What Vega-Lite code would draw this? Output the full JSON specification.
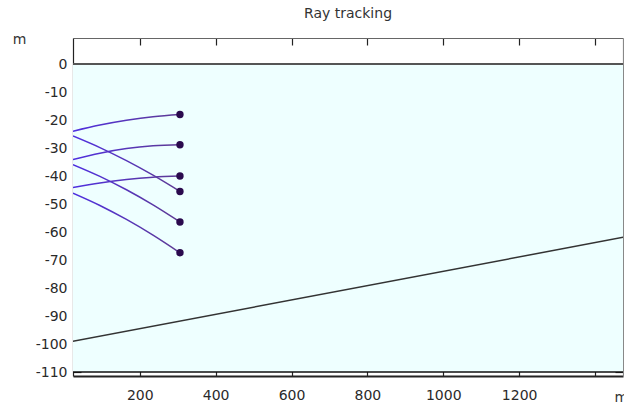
{
  "$schema": "https://vega.github.io/schema/vega-lite/v6.json",
  "autosize": "none",
  "padding": {"left": 73, "top": 38, "right": 10, "bottom": 30},
  "width": 550,
  "height": 338,
  "background": "white",
  "title": {"text": "Ray tracking", "fontSize": 14, "font": "DejaVu Sans", "fontWeight": "normal", "color": "#333", "anchor": "middle", "offset": 11},
  "config": {
    "view": {"stroke": null},
    "axis": {"labelFont": "DejaVu Sans", "labelFontSize": 14, "labelColor": "#2a2a2a", "titleFont": "DejaVu Sans", "titleFontSize": 14, "titleFontWeight": "normal", "titleColor": "#333", "grid": false, "domainColor": "#222", "tickColor": "#222", "domainWidth": 1.2, "tickWidth": 1.2}
  },
  "datasets": {
    "water": [{"x": 0, "x2": 1500, "y": 0, "y2": -110}],
    "surface": [{"y": 0}],
    "bottomline": [{"y": -110}],
    "seabed": [{"x": 0, "y": -99.6}, {"x": 1500, "y": -61.2}],
    "rays": [
      {"ray": "u1", "x": 24, "y": -24.0}, {"ray": "u1", "x": 95, "y": -21.8}, {"ray": "u1", "x": 165, "y": -20.1}, {"ray": "u1", "x": 235, "y": -18.8}, {"ray": "u1", "x": 306, "y": -18.0},
      {"ray": "u2", "x": 24, "y": -34.1}, {"ray": "u2", "x": 95, "y": -31.85}, {"ray": "u2", "x": 165, "y": -30.2}, {"ray": "u2", "x": 235, "y": -29.2}, {"ray": "u2", "x": 306, "y": -28.8},
      {"ray": "u3", "x": 24, "y": -44.1}, {"ray": "u3", "x": 95, "y": -42.45}, {"ray": "u3", "x": 165, "y": -41.2}, {"ray": "u3", "x": 235, "y": -40.4}, {"ray": "u3", "x": 306, "y": -40.0},
      {"ray": "d1", "x": 24, "y": -25.7}, {"ray": "d1", "x": 95, "y": -29.84}, {"ray": "d1", "x": 165, "y": -34.5}, {"ray": "d1", "x": 235, "y": -39.7}, {"ray": "d1", "x": 306, "y": -45.5},
      {"ray": "d2", "x": 24, "y": -35.9}, {"ray": "d2", "x": 95, "y": -40.1}, {"ray": "d2", "x": 165, "y": -44.9}, {"ray": "d2", "x": 235, "y": -50.3}, {"ray": "d2", "x": 306, "y": -56.4},
      {"ray": "d3", "x": 24, "y": -46.1}, {"ray": "d3", "x": 95, "y": -50.5}, {"ray": "d3", "x": 165, "y": -55.5}, {"ray": "d3", "x": 235, "y": -61.1}, {"ray": "d3", "x": 306, "y": -67.4}
    ],
    "ends": [
      {"x": 306, "y": -18.0}, {"x": 306, "y": -28.8}, {"x": 306, "y": -40.0},
      {"x": 306, "y": -45.5}, {"x": 306, "y": -56.4}, {"x": 306, "y": -67.4}
    ]
  },
  "layer": [
    {
      "data": {"name": "water"},
      "mark": {"type": "rect", "fill": "#eeffff", "clip": true},
      "encoding": {
        "x": {"field": "x", "type": "quantitative", "scale": {"domain": [24.1, 1473.7], "nice": false, "zero": false},
          "axis": {"orient": "bottom", "values": [200, 400, 600, 800, 1000, 1200, 1400], "tickSize": -7, "labelPadding": 19, "labelExpr": "datum.value == 1400 ? '' : '' + datum.value", "title": "m", "titleAngle": 0, "titleX": 541, "titleY": 25, "titleAlign": "left", "titleBaseline": "alphabetic", "domainWidth": 2}},
        "x2": {"field": "x2"},
        "y": {"field": "y", "type": "quantitative", "scale": {"domain": [-111.4, 9.3], "nice": false, "zero": false},
          "axis": {"orient": "left", "values": [0, -10, -20, -30, -40, -50, -60, -70, -80, -90, -100, -110], "tickSize": -8, "labelPadding": 14, "labelExpr": "'' + datum.value", "title": "m", "titleAngle": 0, "titleX": -54, "titleY": 5, "titleAlign": "center", "titleBaseline": "alphabetic"}},
        "y2": {"field": "y2"}
      }
    },
    {
      "data": {"name": "surface"},
      "mark": {"type": "rule", "stroke": "#555", "strokeWidth": 2},
      "encoding": {
        "y": {"field": "y", "type": "quantitative", "axis": {"orient": "right", "values": [0, -10, -20, -30, -40, -50, -60, -70, -80, -90, -100, -110], "tickSize": -8, "labels": false, "title": null, "domainColor": "#888"}}
      }
    },
    {
      "data": {"name": "bottomline"},
      "mark": {"type": "rule", "stroke": "#111", "strokeWidth": 1.5},
      "encoding": {
        "y": {"field": "y", "type": "quantitative", "axis": null},
        "x": {"datum": 24.1, "type": "quantitative", "axis": {"orient": "top", "values": [200, 400, 600, 800, 1000, 1200, 1400], "tickSize": -7, "labels": false, "title": null, "domainColor": "#666"}},
        "x2": {"datum": 1473.7}
      }
    },
    {
      "data": {"name": "seabed"},
      "mark": {"type": "line", "stroke": "#333", "strokeWidth": 1.5, "clip": true},
      "encoding": {
        "x": {"field": "x", "type": "quantitative", "axis": null},
        "y": {"field": "y", "type": "quantitative", "axis": null}
      }
    },
    {
      "data": {"name": "rays"},
      "mark": {"type": "line", "interpolate": "monotone", "strokeWidth": 1.5, "clip": true,
        "stroke": {"gradient": "linear", "x1": 0, "y1": 0, "x2": 1, "y2": 0, "stops": [{"offset": 0, "color": "#4f2fe0"}, {"offset": 1, "color": "#5e3b92"}]}},
      "encoding": {
        "x": {"field": "x", "type": "quantitative", "axis": null},
        "y": {"field": "y", "type": "quantitative", "axis": null},
        "detail": {"field": "ray"}
      }
    },
    {
      "data": {"name": "ends"},
      "mark": {"type": "circle", "size": 55, "color": "#2a0a4e", "opacity": 1},
      "encoding": {
        "x": {"field": "x", "type": "quantitative", "axis": null},
        "y": {"field": "y", "type": "quantitative", "axis": null}
      }
    }
  ]
}
